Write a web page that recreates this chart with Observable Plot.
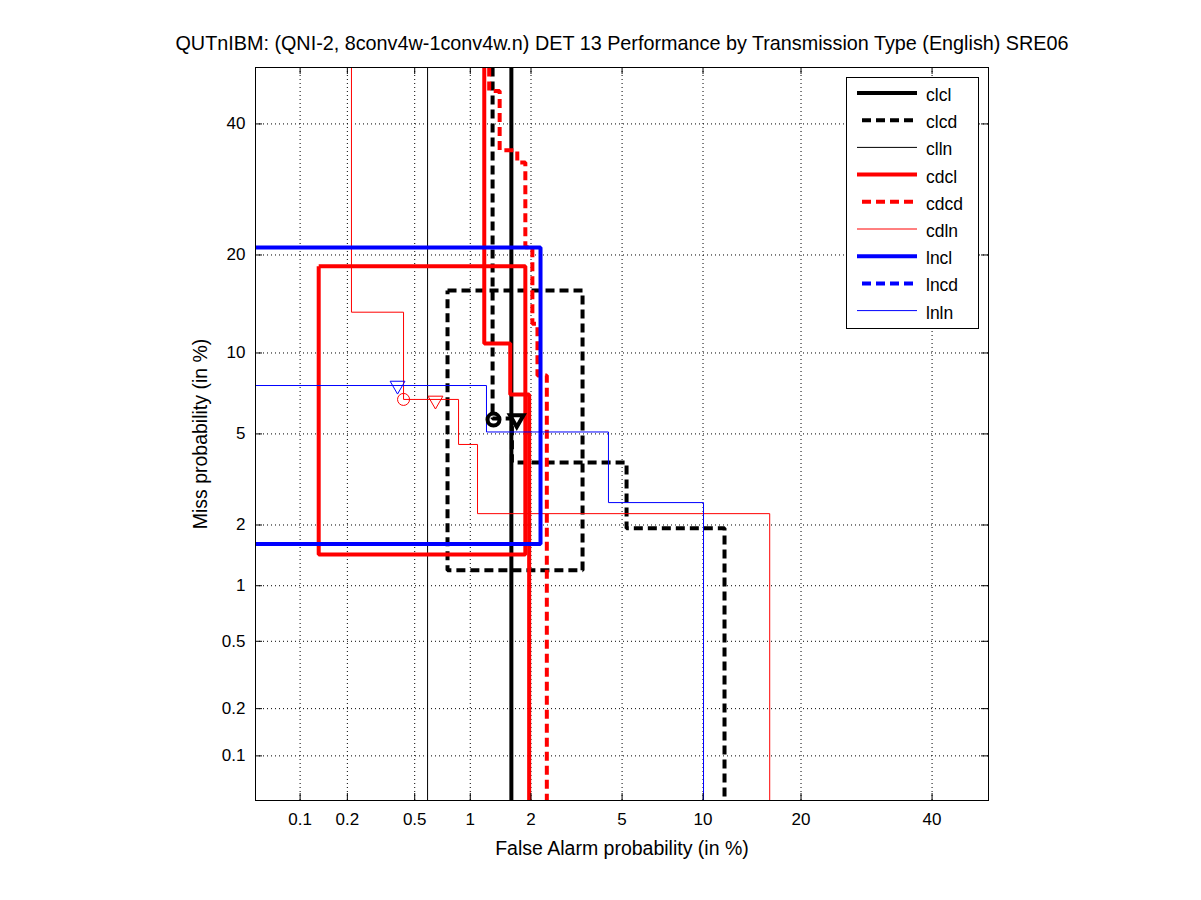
<!DOCTYPE html>
<html><head><meta charset="utf-8">
<script src="https://cdn.jsdelivr.net/npm/d3@7"></script>
<script src="https://cdn.jsdelivr.net/npm/@observablehq/plot@0.6"></script>
<style>
body{margin:0;background:#fff;}
#wrap{position:relative;width:1201px;height:900px;}
#legend{position:absolute;left:846px;top:77px;}
</style></head><body><div id="wrap"></div>
<script>
// ---------- data (percent) ----------
const titleText = "QUTnIBM: (QNI-2, 8conv4w-1conv4w.n) DET 13 Performance by Transmission Type (English) SRE06";
const xLabel = "False Alarm probability (in %)";
const yLabel = "Miss probability (in %)";
const tickPct = [0.1, 0.2, 0.5, 1, 2, 5, 10, 20, 40];
const tickLabels = ["0.1", "0.2", "0.5", "1", "2", "5", "10", "20", "40"];
const axisMin = 0.05, axisMax = 50;
const seriesNames = ["clcl", "clcd", "clln", "cdcl", "cdcd", "cdln", "lncl", "lncd", "lnln"];

const clcl = [[1.61, 50], [1.61, 0.05]];
const clcd = [[1.30, 50], [1.30, 5.76], [1.62, 5.76], [1.62, 3.81], [5.21, 3.81], [5.21, 1.93], [11.8, 1.93], [11.8, 0.05]];
const clcdBox = [[0.758, 15.84], [3.42, 15.84], [3.42, 1.2], [0.758, 1.2], [0.758, 15.84]];
const clln = [[0.59, 50], [0.59, 0.05]];
const cdcl = [[1.18, 50], [1.18, 10.77], [1.59, 10.77], [1.59, 7.11], [1.96, 7.11], [1.96, 0.05]];
const cdclBox = [[0.132, 18.6], [1.88, 18.6], [1.88, 1.44], [0.132, 1.44], [0.132, 18.6]];
const cdcd = [[1.25, 50], [1.25, 45.8], [1.41, 45.8], [1.41, 35.5], [1.72, 35.5], [1.72, 33.5], [1.88, 33.5], [1.88, 21.0], [2.03, 21.0], [2.03, 12.5], [2.145, 12.5], [2.145, 8.34], [2.37, 8.34], [2.37, 0.05]];
const cdln = [[0.212, 50], [0.212, 13.6], [0.432, 13.6], [0.432, 6.81], [0.868, 6.81], [0.868, 4.53], [1.09, 4.53], [1.09, 2.26], [16.3, 2.26], [16.3, 0.05]];
const lncl = [[0.05, 20.96], [2.216, 20.96], [2.216, 1.62], [0.05, 1.62]];
const lncd = [];
const lnln = [[0.05, 7.67], [1.211, 7.67], [1.211, 5.09], [4.40, 5.09], [4.40, 2.54], [10.04, 2.54], [10.04, 0.05]];

const clcdCircle = [[1.314, 5.70]];
const clcdTriangle = [[1.71, 5.72]];
const cdlnCircle = [[0.432, 6.81]];
const cdlnTriangle = [[0.652, 6.75]];
const lnlnTriangle = [[0.399, 7.67]];

// ---------- styles ----------
const styles = {
  clcl: {stroke: "#000", w: 4, dash: null},
  clcd: {stroke: "#000", w: 4, dash: "9,5"},
  clln: {stroke: "#000", w: 1, dash: null},
  cdcl: {stroke: "#f00", w: 4, dash: null},
  cdcd: {stroke: "#f00", w: 4, dash: "9,5"},
  cdln: {stroke: "#f00", w: 1, dash: null},
  lncl: {stroke: "#00f", w: 4, dash: null},
  lncd: {stroke: "#00f", w: 4, dash: "9,5"},
  lnln: {stroke: "#00f", w: 1, dash: null}
};
const FONT = "'Liberation Sans', Arial, sans-serif";

// inverse normal CDF (probit) for the DET scale
function probit(p) {
  const a = [-3.969683028665376e+01, 2.209460984245205e+02, -2.759285104469687e+02, 1.383577518672690e+02, -3.066479806614716e+01, 2.506628277459239e+00];
  const b = [-5.447609879822406e+01, 1.615858368580409e+02, -1.556989798598866e+02, 6.680131188771972e+01, -1.328068155288572e+01];
  const c = [-7.784894002430293e-03, -3.223964580411365e-01, -2.400758277161838e+00, -2.549732539343734e+00, 4.374664141464968e+00, 2.938163982698783e+00];
  const d = [7.784695709041462e-03, 3.224671290700398e-01, 2.445134137142996e+00, 3.754408661907416e+00];
  const pl = 0.02425, ph = 1 - pl;
  let q, r;
  if (p < pl) { q = Math.sqrt(-2 * Math.log(p)); return (((((c[0]*q+c[1])*q+c[2])*q+c[3])*q+c[4])*q+c[5]) / ((((d[0]*q+d[1])*q+d[2])*q+d[3])*q+1); }
  if (p <= ph) { q = p - 0.5; r = q*q; return (((((a[0]*r+a[1])*r+a[2])*r+a[3])*r+a[4])*r+a[5])*q / (((((b[0]*r+b[1])*r+b[2])*r+b[3])*r+b[4])*r+1); }
  q = Math.sqrt(-2 * Math.log(1 - p)); return -(((((c[0]*q+c[1])*q+c[2])*q+c[3])*q+c[4])*q+c[5]) / ((((d[0]*q+d[1])*q+d[2])*q+d[3])*q+1);
}
const P = v => probit(v / 100);
const tickU = tickPct.map(P);
const fmt = u => tickLabels[tickU.findIndex(t => Math.abs(t - u) < 1e-9)];

const triDown = {
  draw(ctx, size) {
    const y = -Math.sqrt(size / (Math.sqrt(3) * 3));
    const s3 = Math.sqrt(3);
    ctx.moveTo(0, -y * 2);
    ctx.lineTo(-s3 * y, y);
    ctx.lineTo(s3 * y, y);
    ctx.closePath();
  }
};

const W = 1201, H = 900, mL = 255, mR = 213, mT = 67, mB = 100;
const frameH = H - mT - mB, frameW = W - mL - mR;
const tickLen = 7;

function lineMark(data, name) {
  const s = styles[name];
  return Plot.line(data, {x: d => P(d[0]), y: d => P(d[1]), stroke: s.stroke, strokeWidth: s.w,
    strokeDasharray: s.dash || undefined, strokeLinecap: "butt", strokeLinejoin: "miter", clip: true});
}

const chart = Plot.plot({
  width: W, height: H, marginLeft: mL, marginRight: mR, marginTop: mT, marginBottom: mB,
  x: {domain: [P(axisMin), P(axisMax)]},
  y: {domain: [P(axisMin), P(axisMax)]},
  style: {fontFamily: FONT, fontSize: "17px", background: "#fff", color: "#000"},
  marks: [
    Plot.gridX(tickU, {stroke: "#000", strokeOpacity: 1, strokeDasharray: "1,3"}),
    Plot.gridY(tickU, {stroke: "#000", strokeOpacity: 1, strokeDasharray: "1,3"}),
    lineMark(clcl, "clcl"),
    lineMark(clcd, "clcd"),
    lineMark(clcdBox, "clcd"),
    lineMark(clln, "clln"),
    lineMark(cdcl, "cdcl"),
    lineMark(cdclBox, "cdcl"),
    lineMark(cdcd, "cdcd"),
    lineMark(cdln, "cdln"),
    lineMark(lncl, "lncl"),
    lineMark(lncd, "lncd"),
    lineMark(lnln, "lnln"),
    Plot.dot(clcdCircle, {x: d => P(d[0]), y: d => P(d[1]), r: 6, stroke: "#000", strokeWidth: 4, fill: "none"}),
    Plot.dot(clcdTriangle, {x: d => P(d[0]), y: d => P(d[1]), r: 5, symbol: triDown, stroke: "#000", strokeWidth: 4, fill: "none"}),
    Plot.dot(cdlnCircle, {x: d => P(d[0]), y: d => P(d[1]), r: 6, stroke: "#f00", strokeWidth: 1, fill: "none"}),
    Plot.dot(cdlnTriangle, {x: d => P(d[0]), y: d => P(d[1]), r: 5.5, symbol: triDown, stroke: "#f00", strokeWidth: 1, fill: "none"}),
    Plot.dot(lnlnTriangle, {x: d => P(d[0]), y: d => P(d[1]), r: 5.5, symbol: triDown, stroke: "#00f", strokeWidth: 1, fill: "none"}),
    Plot.frame({stroke: "#000"}),
    Plot.tickX(tickU, {x: d => d, insetTop: frameH - tickLen, stroke: "#000"}),
    Plot.tickX(tickU, {x: d => d, insetBottom: frameH - tickLen, stroke: "#000"}),
    Plot.tickY(tickU, {y: d => d, insetRight: frameW - tickLen, stroke: "#000"}),
    Plot.tickY(tickU, {y: d => d, insetLeft: frameW - tickLen, stroke: "#000"}),
    Plot.axisX(tickU, {anchor: "bottom", tickSize: 0, tickPadding: 12, tickFormat: fmt, label: null, fontSize: 17}),
    Plot.axisY(tickU, {anchor: "left", tickSize: 0, tickPadding: 10, tickFormat: fmt, label: null, fontSize: 17}),
    Plot.text([titleText], {frameAnchor: "top", lineAnchor: "middle", textAnchor: "middle", dy: -24, fontSize: 19.8}),
    Plot.text([xLabel], {frameAnchor: "bottom", lineAnchor: "middle", textAnchor: "middle", dy: 48, fontSize: 19.5}),
    Plot.text([yLabel], {frameAnchor: "left", lineAnchor: "middle", textAnchor: "middle", dx: -55, rotate: -90, fontSize: 19.5})
  ]
});
document.getElementById("wrap").appendChild(chart);

// ---------- legend ----------
const lgW = 132, lgH = 251, rowY0 = 16, rowStep = 27.2;
const lg = d3.create("svg").attr("id", "legend").attr("width", lgW + 1).attr("height", lgH + 1)
  .style("position", "absolute").style("left", "846px").style("top", "77px");
lg.append("rect").attr("x", 0.5).attr("y", 0.5).attr("width", lgW).attr("height", lgH)
  .attr("fill", "#fff").attr("stroke", "#000");
seriesNames.forEach((name, i) => {
  const s = styles[name];
  const y = rowY0 + i * rowStep;
  lg.append("line").attr("x1", s.dash ? 16 : 11).attr("x2", 71).attr("y1", y).attr("y2", y)
    .attr("stroke", s.stroke).attr("stroke-width", s.w).attr("stroke-dasharray", s.dash);
  lg.append("text").attr("x", 80).attr("y", y + 8).text(name)
    .attr("font-family", FONT).attr("font-size", 17.5);
});
document.getElementById("wrap").appendChild(lg.node());
</script></body></html>
